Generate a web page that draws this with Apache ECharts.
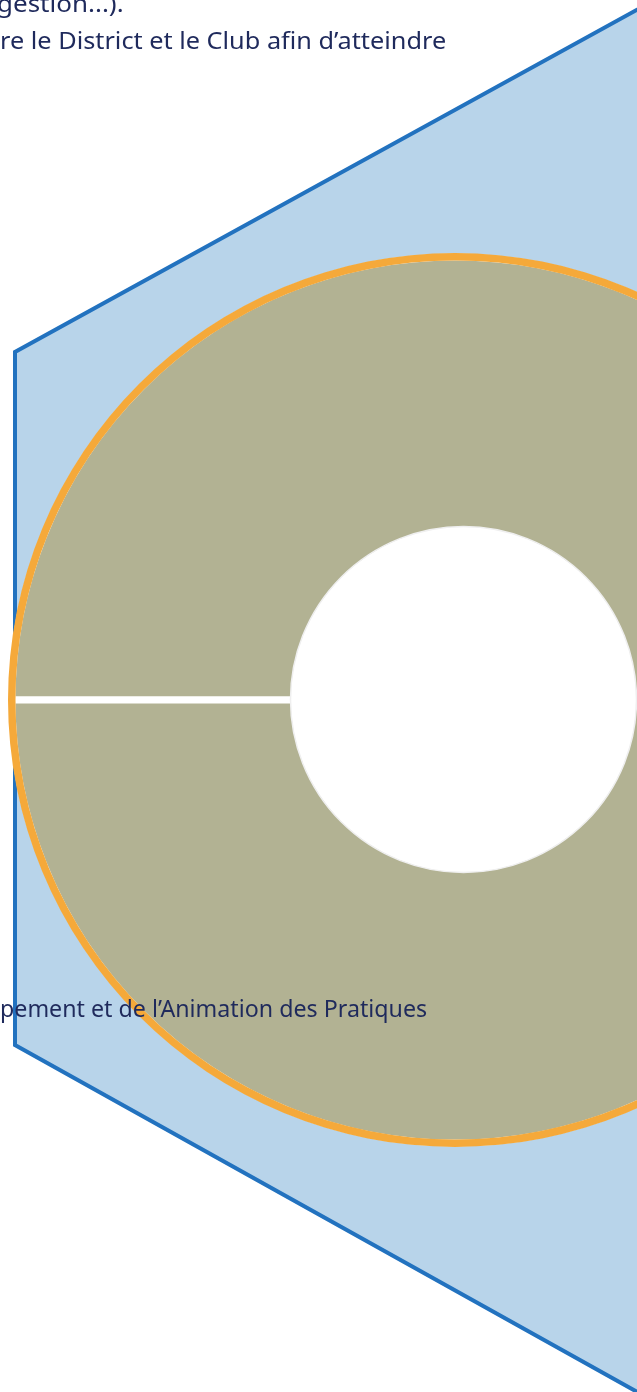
<!DOCTYPE html>
<html>
<head>
<meta charset="utf-8">
<script src="https://cdn.jsdelivr.net/npm/echarts@6/dist/echarts.min.js"></script>
<style>
html,body{margin:0;padding:0;background:#ffffff;}
#chart{width:637px;height:1392px;}
</style>
</head>
<body>
<div id="chart"></div>
<script>
// Data
const segmentNames = ['Segment 1', 'Segment 2'];
const segmentValues = [50, 50];
const ringNames = ['Contour'];
const ringValues = [100];
const textLines = [
  'gestion...).',
  're le District et le Club afin d\u2019atteindre',
  'pement et de l\u2019Animation des Pratiques'
];

const navy = '#1f2a5c';
const font = '23px "Noto Sans", sans-serif';

const chart = echarts.init(document.getElementById('chart'), null, {renderer: 'canvas'});

function textEl(str, x, y, sx) {
  return {
    type: 'text', z: 100, silent: true, x: x, y: y, scaleX: sx,
    style: {text: str, font: font, fill: navy, verticalAlign: 'middle', align: 'left'}
  };
}

const option = {
  animation: false,
  backgroundColor: '#ffffff',
  graphic: [
    {
      type: 'polygon', z: -10, silent: true,
      shape: {points: [[15, 352], [15, 1045], [700, 1427], [700, -25]]},
      style: {fill: '#b8d4ea', stroke: '#2272bf', lineWidth: 4, lineJoin: 'miter'}
    },
    {
      type: 'circle', z: 50, silent: true,
      shape: {cx: 463.5, cy: 699.5, r: 173},
      style: {fill: '#ffffff', stroke: '#efefef', lineWidth: 1.5}
    },
    textEl(textLines[0], -3, 5, 1.13),
    textEl(textLines[1], 0, 42, 1.10),
    textEl(textLines[2], 0, 1010, 1.01)
  ],
  series: [
    {
      type: 'pie', z: 2, silent: true,
      center: [455, 700],
      radius: [0, 443],
      startAngle: 180,
      clockwise: true,
      label: {show: false}, labelLine: {show: false},
      emphasis: {disabled: true},
      itemStyle: {color: '#b2b293', borderColor: '#ffffff', borderWidth: 7},
      data: segmentNames.map((n, i) => ({name: n, value: segmentValues[i]}))
    },
    {
      type: 'pie', z: 3, silent: true,
      center: [455, 700],
      radius: [439.5, 447],
      label: {show: false}, labelLine: {show: false},
      emphasis: {disabled: true},
      itemStyle: {color: '#f5a93a'},
      data: ringNames.map((n, i) => ({name: n, value: ringValues[i]}))
    }
  ]
};
chart.setOption(option);
</script>
</body>
</html>
